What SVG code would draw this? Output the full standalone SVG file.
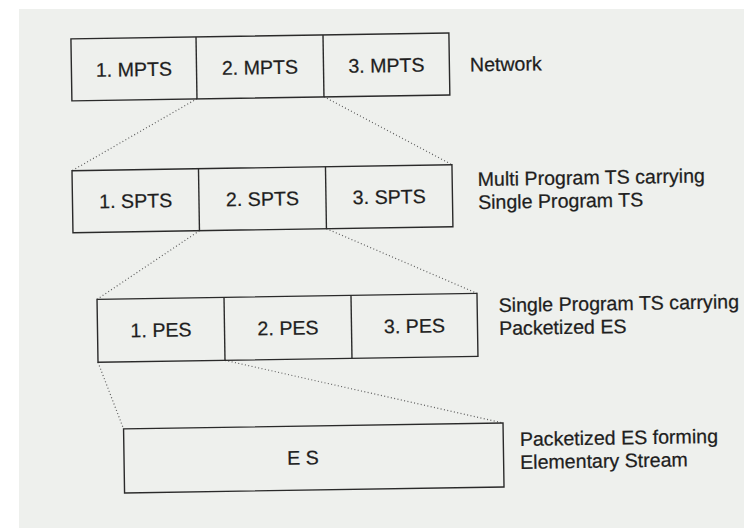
<svg xmlns="http://www.w3.org/2000/svg" width="744" height="528" viewBox="0 0 744 528">
  <defs>
    <style>
      .box { fill: none; stroke: #2a2a2a; stroke-width: 1.4; }
      .div { stroke: #2a2a2a; stroke-width: 1.4; }
      .dot { stroke: #5e5e5e; stroke-width: 1.2; stroke-dasharray: 1 2.4; fill: none; }
      text { font-family: "Liberation Sans", Arial, sans-serif; font-size: 19.6px; fill: #1e1e1e; stroke: #1e1e1e; stroke-width: 0.25; }
      .c { text-anchor: middle; }
    </style>
  </defs>
  <rect x="0" y="0" width="744" height="528" fill="#ffffff"/>
  <rect x="19" y="9" width="725" height="519" fill="#eef0ed"/>
  <g transform="rotate(-0.9 372 264)">
    <g id="connectors">
      <line class="dot" x1="199.6" y1="96" x2="73.5" y2="166"/>
      <line class="dot" x1="326.6" y1="96" x2="453.6" y2="166"/>
      <line class="dot" x1="200" y1="228" x2="96.5" y2="295"/>
      <line class="dot" x1="327" y1="228" x2="476.6" y2="295"/>
      <line class="dot" x1="96.5" y1="358" x2="121" y2="425"/>
      <line class="dot" x1="223.5" y1="358" x2="500.5" y2="425"/>
    </g>
    <g id="mpts">
      <rect class="box" x="74.5" y="34.2" width="378" height="62"/>
      <line class="div" x1="199.6" y1="34.2" x2="199.6" y2="96.2"/>
      <line class="div" x1="326.6" y1="34.2" x2="326.6" y2="96.2"/>
      <text class="c" x="137" y="72.5">1. MPTS</text>
      <text class="c" x="263" y="72.5">2. MPTS</text>
      <text class="c" x="389.5" y="72.5">3. MPTS</text>
      <text x="473" y="73">Network</text>
    </g>
    <g id="spts">
      <rect class="box" x="73.5" y="166" width="380" height="62"/>
      <line class="div" x1="200" y1="166" x2="200" y2="228"/>
      <line class="div" x1="327" y1="166" x2="327" y2="228"/>
      <text class="c" x="136.7" y="204">1. SPTS</text>
      <text class="c" x="263.5" y="204">2. SPTS</text>
      <text class="c" x="390.3" y="204">3. SPTS</text>
      <text x="479" y="187.7">Multi Program TS carrying</text>
      <text x="479" y="210.7">Single Program TS</text>
    </g>
    <g id="pes">
      <rect class="box" x="96.5" y="295" width="380" height="63"/>
      <line class="div" x1="223.5" y1="295" x2="223.5" y2="358"/>
      <line class="div" x1="350.5" y1="295" x2="350.5" y2="358"/>
      <text class="c" x="160" y="333.5">1. PES</text>
      <text class="c" x="287" y="333.5">2. PES</text>
      <text class="c" x="413.5" y="333.5">3. PES</text>
      <text x="498" y="314">Single Program TS carrying</text>
      <text x="498" y="337">Packetized ES</text>
    </g>
    <g id="es">
      <rect class="box" x="121" y="425" width="379.5" height="64"/>
      <text class="c" x="300" y="463.5">E S</text>
      <text x="517" y="448.3">Packetized ES forming</text>
      <text x="517" y="471.3">Elementary Stream</text>
    </g>
  </g>
</svg>
